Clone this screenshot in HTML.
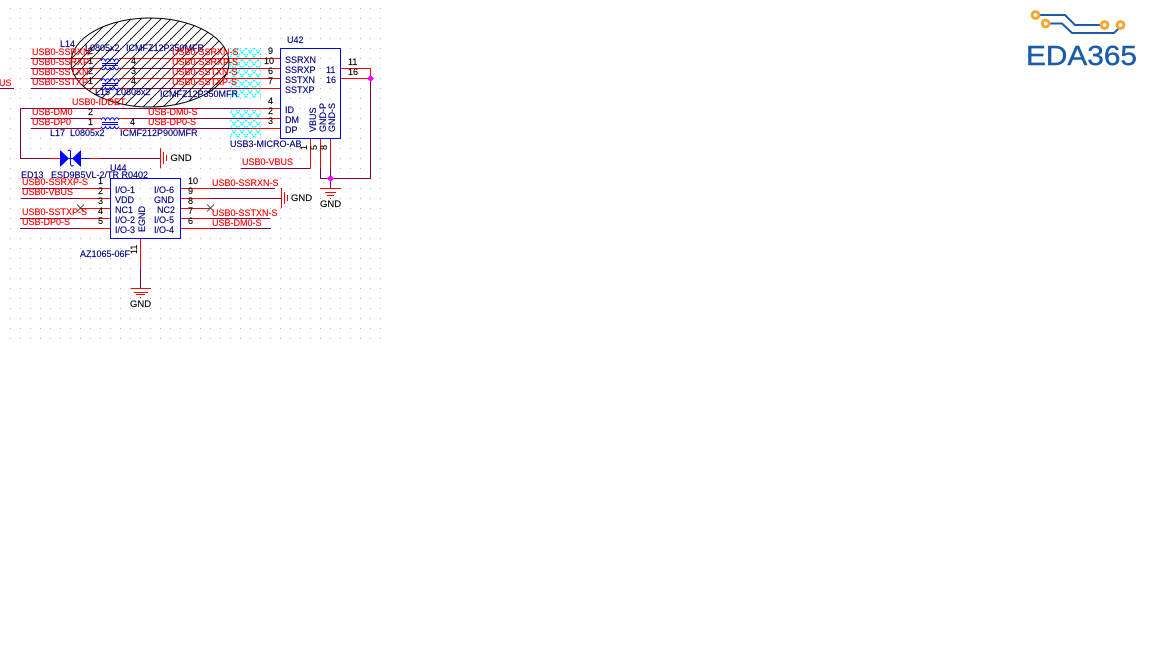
<!DOCTYPE html>
<html><head><meta charset="utf-8"><style>
html,body{margin:0;padding:0;background:#fff;width:1152px;height:648px;overflow:hidden}
svg{display:block;position:absolute;left:0;top:0}
text{font-family:"Liberation Sans",sans-serif;font-size:9px;stroke-width:.15px}
.r{fill:#ff0000;stroke:#ff0000}.n{fill:#000080;stroke:#000080}.k{fill:#000;stroke:#000}.g{fill:#000;stroke:#000;font-size:9.5px}
.m{stroke:#800040;stroke-width:1;fill:none}.e{stroke:#ff0000;stroke-width:1;fill:none}.b{stroke:#0000ff;stroke-width:1;fill:none}
</style></head><body>
<svg width="1152" height="648" viewBox="0 0 1152 648" xmlns="http://www.w3.org/2000/svg">
<defs>
<pattern id="dots" patternUnits="userSpaceOnUse" x="10" y="8" width="10" height="10"><rect width="1" height="1" fill="#b5b5b5"/></pattern>
<pattern id="hatch" patternUnits="userSpaceOnUse" width="10" height="10"><path d="M-1 11L11 -1M-5 5L5 -5M5 15L15 5" stroke="#000" stroke-width=".8" fill="none"/></pattern>
<pattern id="cy" patternUnits="userSpaceOnUse" x="230" y="48" width="8" height="8"><path d="M0 0L8 8M8 0L0 8" stroke="#00ffff" stroke-width="1.100" stroke-dasharray="2 .8" fill="none"/></pattern>
</defs>
<rect x="10" y="8" width="371" height="331" fill="url(#dots)"/>
<rect x="230" y="48" width="31" height="50" fill="url(#cy)"/>
<rect x="230" y="108" width="31" height="30" fill="url(#cy)"/>

<!-- wires U42 left -->
<path class="m" d="M31 58.500H84M31 68.500H84M31 78.500H84M31 88.500H84M130 68.500H250M130 88.500H250M0 88.500H14"/>
<path class="e" d="M84 58.500H101M84 68.500H101M84 78.500H101M84 88.500H101M119 58.500H280M119 68.500H130M119 78.500H280M119 88.500H130M250 68.500H280M250 88.500H280"/>
<path class="m" d="M20.500 108.500H250M20.500 108.500V158.500H50M31 118.500H90M31 128.500H90M130 118.500H250M130 128.500H250M100 158.500H160"/>
<path class="e" d="M250 108.500H280M250 118.500H280M250 128.500H280M90 118.500H101M90 128.500H101M119 118.500H130M119 128.500H130M50 158.500H60M90 158.500H100"/>
<path class="b" d="M60 158.500H90"/>
<!-- right of U42 -->
<path class="e" d="M340 68.500H370.500V78.500M340 78.500H370.500"/>
<path class="m" d="M370.500 78.500V178.500H320.500V168M330.500 168V188"/>
<path class="e" d="M310.500 138V168M320.500 138V168M330.500 138V168"/>
<path class="m" d="M241 168.500H310.500"/>
<rect x="328" y="176" width="5" height="5" fill="#ff00ff" transform="rotate(45 330.500 178.500)"/>
<rect x="368" y="76" width="5" height="5" fill="#ff00ff" transform="rotate(45 370.500 78.500)"/>
<!-- U44 wires -->
<path class="m" d="M22 188.500H80M21 198.500H80M20 218.500H80M20 228.500H80M210 188.500H275M210 198.500H281M210 218.500H270M210 228.500H271M140.500 268V288"/>
<path class="e" d="M80 188.500H110M80 198.500H110M80 208.500H110M80 218.500H110M80 228.500H110M180 188.500H210M180 198.500H210M180 208.500H210M180 218.500H210M180 228.500H210M140.500 238V268"/>
<path d="M77 204.500L84 211.500M84 204.500L77 211.500M207 204.500L214 211.500M214 204.500L207 211.500" stroke="#222" stroke-width=".8" fill="none"/>

<!-- GND symbols -->
<path class="e" d="M320 188.500H341M325 192.500H336M327 195.500H334M330 198.500H331"/>
<path class="e" d="M131 288.500H151M134 292.500H148M136 294.500H145M140 297.500H141"/>
<path class="e" d="M160.500 148V168M163.500 152V164M166.500 155V161"/>
<path class="e" d="M281.500 188V208M284.500 192V204M287.500 195V201"/>
<text class="g" x="170.500" y="161">GND</text>
<text class="g" x="291" y="201">GND</text>
<text class="g" x="320" y="207">GND</text>
<text class="g" x="130" y="307">GND</text>

<!-- inductors -->
<path class="b" d="M101 61c1.500-3 3-3 4.500 0c1.500-3 3-3 4.500 0c1.500-3 3-3 4.500 0c1.500-3 3-3 4.500 0M102 63.500H118M102 65.500H118M101 67.500c1.500 3 3 3 4.500 0c1.500 3 3 3 4.500 0c1.500 3 3 3 4.500 0c1.500 3 3 3 4.500 0"/>
<path class="b" d="M101 81c1.500-3 3-3 4.500 0c1.500-3 3-3 4.500 0c1.500-3 3-3 4.500 0c1.500-3 3-3 4.500 0M102 83.500H118M102 85.500H118M101 87.500c1.500 3 3 3 4.500 0c1.500 3 3 3 4.500 0c1.500 3 3 3 4.500 0c1.500 3 3 3 4.500 0"/>
<path class="b" d="M101 120c1.500-3 3-3 4.500 0c1.500-3 3-3 4.500 0c1.500-3 3-3 4.500 0c1.500-3 3-3 4.500 0M102 122.500H118M102 124.500H118M101 126.500c1.500 3 3 3 4.500 0c1.500 3 3 3 4.500 0c1.500 3 3 3 4.500 0c1.500 3 3 3 4.500 0"/>
<!-- diode -->
<path d="M60 150L69 158.500L60 167ZM81 150L72 158.500L81 167Z" fill="#0000ff"/>
<path class="b" d="M68 151c2-2 3 0 2.500 2V164c.5 2 1.500 3 3 1"/>

<!-- ellipse -->
<ellipse cx="150" cy="62.500" rx="79" ry="44.500" fill="url(#hatch)" stroke="#000" stroke-width="1"/>

<!-- boxes -->
<rect class="b" x="280.500" y="48.500" width="60" height="90"/>
<rect class="b" x="110.500" y="178.500" width="70" height="60"/>

<!-- left labels -->
<text class="n" x="60" y="47">L14</text>
<text class="n" x="85" y="51">L0805x2</text>
<text class="n" x="126" y="51">ICMFZ12P350MFR</text>
<text class="n" x="95" y="95">L15</text>
<text class="n" x="116" y="95">L0805x2</text>
<text class="n" x="160" y="97">ICMFZ12P350MFR</text>
<text class="n" x="50" y="136">L17</text>
<text class="n" x="70" y="136">L0805x2</text>
<text class="n" x="120" y="136">ICMF212P900MFR</text>
<text class="r" x="32" y="55">USB0-SSRXN</text>
<text class="r" x="32" y="65">USB0-SSRXP</text>
<text class="r" x="32" y="75">USB0-SSTXN</text>
<text class="r" x="32" y="85">USB0-SSTXP</text>
<text class="r" x="-1" y="86">US</text>
<text class="k" x="88" y="54">2</text><text class="k" x="88" y="64">1</text><text class="k" x="88" y="74">2</text><text class="k" x="88" y="84">1</text>
<text class="k" x="131" y="64">4</text><text class="k" x="131" y="74">3</text><text class="k" x="131" y="84">4</text>
<text class="r" x="172" y="55">USB0-SSRXN-S</text>
<text class="r" x="172" y="65">USB0-SSRXP-S</text>
<text class="r" x="172" y="75">USB0-SSTXN-S</text>
<text class="r" x="172" y="85">USB0-SSTXP-S</text>
<text class="r" x="72" y="105">USB0-IDDET</text>
<text class="r" x="32" y="115">USB-DM0</text>
<text class="r" x="32" y="125">USB-DP0</text>
<text class="k" x="88" y="115">2</text><text class="k" x="88" y="125">1</text><text class="k" x="130" y="125">4</text>
<text class="r" x="148" y="115">USB-DM0-S</text>
<text class="r" x="148" y="125">USB-DP0-S</text>

<!-- U42 -->
<text class="n" x="287" y="43">U42</text>
<text class="k" x="268" y="54">9</text><text class="k" x="264" y="64">10</text><text class="k" x="268" y="74">6</text><text class="k" x="268" y="84">7</text>
<text class="k" x="268" y="104">4</text><text class="k" x="268" y="114">2</text><text class="k" x="268" y="124">3</text>
<text class="n" x="285" y="63">SSRXN</text><text class="n" x="285" y="73">SSRXP</text><text class="n" x="285" y="83">SSTXN</text><text class="n" x="285" y="93">SSTXP</text>
<text class="n" x="285" y="113">ID</text><text class="n" x="285" y="123">DM</text><text class="n" x="285" y="133">DP</text>
<text class="n" x="326" y="73">11</text><text class="n" x="326" y="83">16</text>
<text class="k" x="348" y="65">11</text><text class="k" x="348" y="75">16</text>
<text class="n" transform="translate(316 132) rotate(-90)">VBUS</text>
<text class="n" transform="translate(326 132) rotate(-90)">GND-P</text>
<text class="n" transform="translate(335 132) rotate(-90)">GND-S</text>
<text class="k" transform="translate(317 150) rotate(-90)">5</text>
<text class="k" transform="translate(327 150) rotate(-90)">8</text>
<text class="k" transform="translate(307 150) rotate(-90)">1</text>
<text class="n" x="230" y="147">USB3-MICRO-AB</text>
<text class="r" x="242" y="165">USB0-VBUS</text>

<!-- U44 -->
<text class="n" x="110" y="171">U44</text>
<text class="n" x="21" y="178">ED13</text>
<text class="n" x="51" y="178">ESD9B5VL-2/TR R0402</text>
<text class="r" x="22" y="185">USB0-SSRXP-S</text>
<text class="r" x="22" y="195">USB0-VBUS</text>
<text class="r" x="22" y="215">USB0-SSTXP-S</text>
<text class="r" x="22" y="225">USB-DP0-S</text>
<text class="k" x="98" y="184">1</text><text class="k" x="98" y="194">2</text><text class="k" x="98" y="204">3</text><text class="k" x="98" y="214">4</text><text class="k" x="98" y="224">5</text>
<text class="k" x="188" y="184">10</text><text class="k" x="188" y="194">9</text><text class="k" x="188" y="204">8</text><text class="k" x="188" y="214">7</text><text class="k" x="188" y="224">6</text>
<text class="n" x="115" y="193">I/O-1</text><text class="n" x="115" y="203">VDD</text><text class="n" x="115" y="213">NC1</text><text class="n" x="115" y="223">I/O-2</text><text class="n" x="115" y="233">I/O-3</text>
<text class="n" x="154" y="193">I/O-6</text><text class="n" x="154" y="203">GND</text><text class="n" x="157" y="213">NC2</text><text class="n" x="154" y="223">I/O-5</text><text class="n" x="154" y="233">I/O-4</text>
<text class="n" transform="translate(145 232) rotate(-90)">EGND</text>
<text class="n" x="80" y="257">AZ1065-06F</text>
<text class="k" transform="translate(137 254) rotate(-90)">11</text>
<text class="r" x="212" y="186">USB0-SSRXN-S</text>
<text class="r" x="212" y="216">USB0-SSTXN-S</text>
<text class="r" x="212" y="226">USB-DM0-S</text>

<!-- logo -->
<path d="M1039 15H1065L1075 25H1100M1050 23.500H1062L1072 33H1114L1120 27" fill="none" stroke="#1a5ca8" stroke-width="2"/>
<g fill="#fff" stroke="#f0a830" stroke-width="3">
<circle cx="1035.500" cy="15" r="3.400"/><circle cx="1045.700" cy="23.500" r="3.400"/><circle cx="1104.500" cy="25" r="3.400"/><circle cx="1120.500" cy="25" r="3.400"/>
</g>
<text x="1026" y="65" textLength="111" lengthAdjust="spacingAndGlyphs" style="font-size:28px;fill:#1a5ca8;stroke:#1a5ca8;stroke-width:.4">EDA365</text>
</svg>
</body></html>
